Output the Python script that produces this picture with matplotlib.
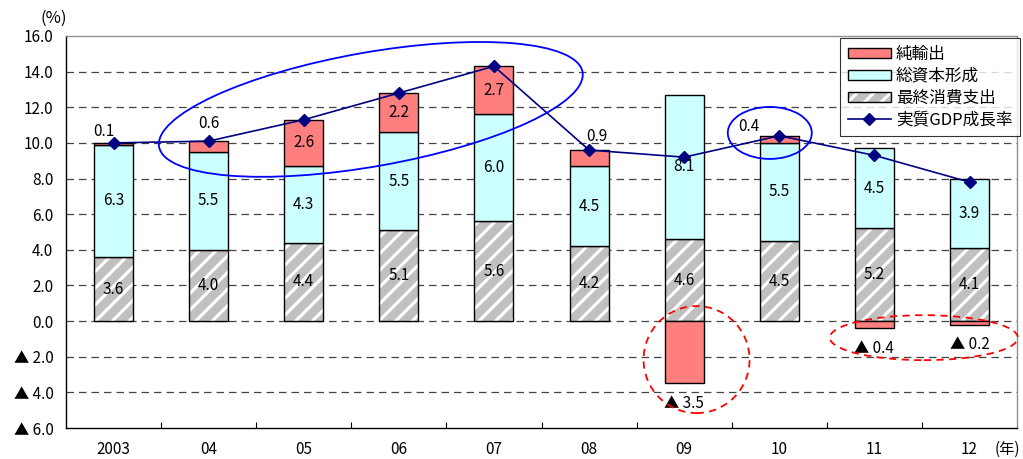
import matplotlib.pyplot as plt
import matplotlib.transforms as mtransforms
from matplotlib.patches import Ellipse, Patch
from matplotlib.lines import Line2D
import numpy as np

plt.rcParams['font.family'] = ['Noto Sans CJK JP', 'DejaVu Sans']
plt.rcParams['hatch.linewidth'] = 2.2

# 実質GDP成長率の寄与度分解 (%)
years = ['2003', '04', '05', '06', '07', '08', '09', '10', '11', '12']
consumption = [3.6, 4.0, 4.4, 5.1, 5.6, 4.2, 4.6, 4.5, 5.2, 4.1]   # 最終消費支出
investment = [6.3, 5.5, 4.3, 5.5, 6.0, 4.5, 8.1, 5.5, 4.5, 3.9]    # 総資本形成
net_exports = [0.1, 0.6, 2.6, 2.2, 2.7, 0.9, -3.5, 0.4, -0.4, -0.2]  # 純輸出
gdp_growth = [10.0, 10.1, 11.3, 12.8, 14.3, 9.6, 9.2, 10.4, 9.3, 7.8]  # 実質GDP成長率

RED = '#ff7f7f'
CYAN = '#ccffff'
GREY = '#c0c0c0'
NAVY = '#000080'

fig = plt.figure(figsize=(10.23, 4.59), dpi=100)
ax = fig.add_axes([0.0645, 0.0675, 0.9297, 0.8541])

x = np.arange(len(years))
cons = np.array(consumption)
inv = np.array(investment)
nx = np.array(net_exports)
w = 0.41

# 最終消費支出: grey with white diagonal stripes
ax.bar(x, cons, w, color=GREY, hatch='//', edgecolor='white', linewidth=0, zorder=2)
ax.bar(x, cons, w, fill=False, edgecolor='black', linewidth=1.0, zorder=3)
ax.bar(x, inv, w, bottom=cons, color=CYAN, edgecolor='black', linewidth=1.0, zorder=3)
nx_bottom = np.where(nx > 0, cons + inv, 0)
ax.bar(x, nx, w, bottom=nx_bottom, color=RED, edgecolor='black', linewidth=1.0, zorder=3)

ax.plot(x, gdp_growth, color=NAVY, lw=1.2, marker='D', ms=6, zorder=5)

fs = 11
for i in x:
    ax.text(i, cons[i] / 2, f'{cons[i]:.1f}', ha='center', va='center', fontsize=fs, zorder=6)
    ax.text(i, cons[i] + inv[i] / 2, f'{inv[i]:.1f}', ha='center', va='center', fontsize=fs, zorder=6)

# small contributions are labelled outside the bar
small_offsets = {0: (-10, 11), 1: (0, 18), 5: (8, 14), 7: (-30, 9)}
for i in x:
    v = nx[i]
    if v < 0:
        ax.annotate(f'▲ {abs(v):.1f}', (i, v), xytext=(0, -20), textcoords='offset pixels',
                    ha='center', va='center', fontsize=fs, zorder=6)
    elif v >= 1.5:
        ax.text(i, cons[i] + inv[i] + v / 2, f'{v:.1f}', ha='center', va='center',
                fontsize=fs, zorder=6)
    else:
        dx, dy = small_offsets.get(i, (0, 12))
        ax.annotate(f'{v:.1f}', (i, cons[i] + inv[i] + v), xytext=(dx, dy),
                    textcoords='offset pixels', ha='center', va='center', fontsize=fs, zorder=6)

# highlight ellipses (sizes in pixels, centred on data points)
def ring(xc, yc, wpx, hpx, angle, color, ls):
    tr = fig.dpi_scale_trans + mtransforms.ScaledTranslation(xc, yc, ax.transData)
    e = Ellipse((0, 0), wpx / 100, hpx / 100, angle=angle, transform=tr,
                fill=False, edgecolor=color, lw=1.3, linestyle=ls, zorder=7, clip_on=False)
    ax.add_patch(e)

ring(2.705, 11.88, 430, 114, 10, '#0000ff', '-')
ring(6.9, 10.56, 84, 52, 0, '#0000ff', '-')
ring(6.13, -2.16, 106, 107, 0, '#ff0000', (0, (4, 3)))
ring(8.52, -0.93, 188, 45, 0, '#ff0000', (0, (4, 3)))

ax.set_xlim(-0.5, 9.5)
ax.set_ylim(-6, 16)
yt = np.arange(-6, 16.1, 2)
ax.set_yticks(yt)
ax.set_yticklabels([f'{v:.1f}' if v >= 0 else f'▲ {abs(v):.1f}' for v in yt], fontsize=fs)
ax.tick_params(axis='y', length=0, pad=9)
ax.set_xticks(x)
ax.set_xticklabels(years, fontsize=fs)
ax.tick_params(axis='x', which='major', length=0, pad=9)
ax.set_xticks(np.arange(0.5, 9.5, 1), minor=True)
ax.tick_params(axis='x', which='minor', direction='in', length=4, width=0.8)

for v in np.arange(-4, 15, 2):
    ax.axhline(v, color='#444444', lw=0.9, ls=(0, (6, 4)), zorder=1)

for s in ['left', 'bottom']:
    ax.spines[s].set_color('black')
    ax.spines[s].set_linewidth(1.0)
for s in ['top', 'right']:
    ax.spines[s].set_color('#909090')
    ax.spines[s].set_linewidth(1.0)

fig.text(0.053, 0.96, '(%)', ha='center', va='center', fontsize=12)
fig.text(0.985, 0.02, '(年)', ha='center', va='center', fontsize=fs)

handles = [
    Patch(facecolor=RED, edgecolor='black', linewidth=1.0),
    Patch(facecolor=CYAN, edgecolor='black', linewidth=1.0),
    (Patch(facecolor=GREY, hatch='//', edgecolor='white', linewidth=0),
     Patch(fill=False, edgecolor='black', linewidth=1.0)),
    Line2D([], [], color=NAVY, lw=1.2, marker='D', ms=6),
]
labels = ['純輸出', '総資本形成', '最終消費支出', '実質GDP成長率']
leg = ax.legend(handles, labels, loc='upper right', bbox_to_anchor=(1.003, 0.995),
                borderaxespad=0, fontsize=12, frameon=True, fancybox=False,
                handlelength=2.6, handleheight=0.55, labelspacing=0.3, handletextpad=0.3,
                borderpad=0.45)
leg.get_frame().set_edgecolor('black')
leg.get_frame().set_linewidth(0.8)
leg.set_zorder(8)

fig.savefig('out.png', dpi=100)
